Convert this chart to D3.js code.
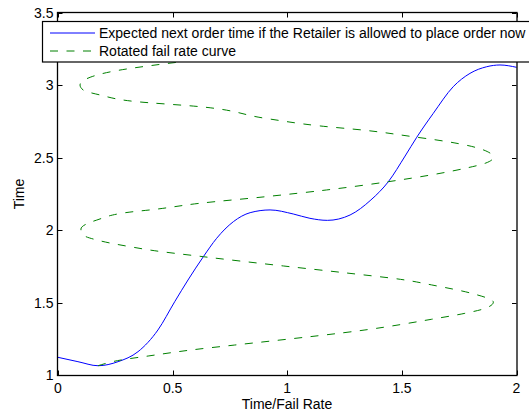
<!DOCTYPE html>
<meta charset="utf-8">
<style>
    body { margin: 0; background: #fff; }
    text {
        font-family: "Liberation Sans", Arial, sans-serif;
        font-size: 14px;
        fill: #000;
    }
</style>

<svg width="529" height="415"></svg>

<script src="https://d3js.org/d3.v7.min.js"></script>

<script>
    // expected next order time (blue)
    var orderX = [0, 0.087, 0.175, 0.262, 0.349, 0.436, 0.509, 0.567, 0.634, 0.692, 0.765, 0.838,
                  0.925, 1.026, 1.099, 1.175, 1.274, 1.365, 1.441, 1.514, 1.565, 1.637, 1.724,
                  1.797, 1.870, 1.928, 2.0];
    var orderY = [1.122, 1.092, 1.064, 1.092, 1.161, 1.311, 1.506, 1.656, 1.817, 1.944, 2.059, 2.121,
                  2.140, 2.112, 2.082, 2.068, 2.105, 2.209, 2.335, 2.512, 2.642, 2.807, 2.991,
                  3.083, 3.129, 3.141, 3.125];

    // rotated fail rate curve (green, dashed): time -> fail rate
    var failTime = [1.064, 1.104, 1.131, 1.173, 1.207, 1.230, 1.311, 1.385, 1.426, 1.460, 1.503,
                    1.564, 1.622, 1.656, 1.707, 1.753, 1.817, 1.863, 1.882, 1.927, 1.967, 2.008,
                    2.070, 2.128, 2.140, 2.186, 2.231, 2.278, 2.335, 2.427, 2.462, 2.503,
                    2.566, 2.628, 2.642, 2.690, 2.720, 2.773, 2.853, 2.890, 2.934, 2.968, 3.003,
                    3.056, 3.102, 3.136, 3.170, 3.200];
    var failRate = [0.175, 0.276, 0.393, 0.582, 0.771, 0.903, 1.339, 1.630, 1.775, 1.863, 1.899,
                    1.804, 1.630, 1.514, 1.245, 0.983, 0.634, 0.401, 0.329, 0.183, 0.110, 0.100,
                    0.169, 0.329, 0.401, 0.619, 0.903, 1.172, 1.441, 1.775, 1.863, 1.899,
                    1.834, 1.630, 1.565, 1.339, 1.143, 0.903, 0.619, 0.329, 0.183, 0.110, 0.096,
                    0.140, 0.256, 0.401, 0.580, 0.780];

    var xTicks = [0, 0.5, 1, 1.5, 2],
        xTickLabels = ["0", "0.5", "1", "1.5", "2"];
    var yTicks = [1, 1.5, 2, 2.5, 3, 3.5],
        yTickLabels = ["1", "1.5", "2", "2.5", "3", "3.5"];

    var legendLabels = ["Expected next order time if the Retailer is allowed to place order now",
                        "Rotated fail rate curve"];

    var svg = d3.select("svg");

    var x = d3.scaleLinear().domain([0, 2]).range([58, 516.5]);
    var y = d3.scaleLinear().domain([1, 3.5]).range([375, 13]);

    var orderData = orderX.map(function (d, i) { return [d, orderY[i]]; });
    var failData = failTime.map(function (d, i) { return [failRate[i], d]; });

    var tick = 4.5;

    // ticks (inward, all four sides)
    var ticks = svg.append("g").attr("stroke", "#000").attr("stroke-width", 1);
    xTicks.forEach(function (t) {
        var px = Math.round(x(t)) + 0.5;
        ticks.append("line").attr("x1", px).attr("x2", px).attr("y1", y(1)).attr("y2", y(1) - tick);
        ticks.append("line").attr("x1", px).attr("x2", px).attr("y1", y(3.5)).attr("y2", y(3.5) + tick);
    });
    yTicks.forEach(function (t) {
        var py = Math.round(y(t)) + 0.5;
        ticks.append("line").attr("x1", x(0)).attr("x2", x(0) + tick).attr("y1", py).attr("y2", py);
        ticks.append("line").attr("x1", x(2)).attr("x2", x(2) - tick).attr("y1", py).attr("y2", py);
    });

    // tick labels
    svg.append("g").selectAll("text")
        .data(xTicks)
        .enter().append("text")
        .attr("x", function (d) { return x(d); })
        .attr("y", 392.5)
        .attr("text-anchor", "middle")
        .text(function (d, i) { return xTickLabels[i]; });

    svg.append("g").selectAll("text")
        .data(yTicks)
        .enter().append("text")
        .attr("x", 53.5)
        .attr("y", function (d) { return y(d) + 5; })
        .attr("text-anchor", "end")
        .text(function (d, i) { return yTickLabels[i]; });

    // axis titles
    svg.append("text")
        .attr("x", 287)
        .attr("y", 408.5)
        .attr("text-anchor", "middle")
        .text("Time/Fail Rate");

    svg.append("text")
        .attr("transform", "translate(24," + 194 + ") rotate(-90)")
        .attr("text-anchor", "middle")
        .text("Time");

    // curves
    svg.append("path")
        .datum(orderData)
        .attr("fill", "none")
        .attr("stroke", "#0000ff")
        .attr("stroke-width", 1)
        .attr("d", d3.line()
            .x(function (d) { return x(d[0]); })
            .y(function (d) { return y(d[1]); })
            .curve(d3.curveMonotoneX));

    svg.append("path")
        .datum(failData)
        .attr("fill", "none")
        .attr("stroke", "#008000")
        .attr("stroke-width", 1)
        .attr("stroke-dasharray", "8,8.5")
        .attr("d", d3.line()
            .x(function (d) { return x(d[0]); })
            .y(function (d) { return y(d[1]); })
            .curve(d3.curveMonotoneY));

    // frame
    svg.append("rect")
        .attr("x", x(0) - 0.5)
        .attr("y", y(3.5) - 0.5)
        .attr("width", x(2) - x(0) + 1)
        .attr("height", y(1) - y(3.5) + 1)
        .attr("fill", "none")
        .attr("stroke", "#000")
        .attr("stroke-width", 1.3);

    // legend
    var legend = svg.append("g");
    legend.append("rect")
        .attr("x", 42.5)
        .attr("y", 21.5)
        .attr("width", 560)
        .attr("height", 40.5)
        .attr("fill", "#fff")
        .attr("stroke", "#000")
        .attr("stroke-width", 1.2);

    var rows = legend.selectAll("g.row")
        .data(legendLabels)
        .enter().append("g")
        .attr("class", "row")
        .attr("transform", function (d, i) { return "translate(0," + (33 + i * 18) + ")"; });

    rows.append("line")
        .attr("x1", 50).attr("x2", 95)
        .attr("y1", 0).attr("y2", 0)
        .attr("stroke", function (d, i) { return i === 0 ? "#0000ff" : "#008000"; })
        .attr("stroke-width", 1)
        .attr("stroke-dasharray", function (d, i) { return i === 0 ? null : "8,8.5"; });

    rows.append("text")
        .attr("x", 99)
        .attr("y", 5)
        .text(function (d) { return d; });
</script>
